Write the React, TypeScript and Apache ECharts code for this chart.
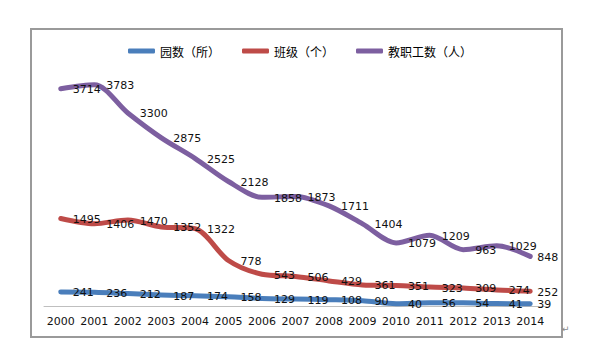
import React, { useEffect, useRef } from "react";
import * as echarts from "echarts";

const years = ["2000", "2001", "2002", "2003", "2004", "2005", "2006", "2007", "2008", "2009", "2010", "2011", "2012", "2013", "2014"];
const kindergartens = [241, 236, 212, 187, 174, 158, 129, 119, 108, 90, 40, 56, 54, 41, 39];
const classes = [1495, 1406, 1470, 1352, 1322, 778, 543, 506, 429, 361, 351, 323, 309, 274, 252];
const staff = [3714, 3783, 3300, 2875, 2525, 2128, 1858, 1873, 1711, 1404, 1079, 1209, 963, 1029, 848];

const seriesNames = ["园数（所）", "班级（个）", "教职工数（人）"];
const seriesColors = ["#4a7ebb", "#be4b48", "#7d5fa0"];
const seriesData = [kindergartens, classes, staff];

export default function App() {
  const ref = useRef<HTMLDivElement>(null);
  useEffect(() => {
    if (!ref.current) return;
    const chart = echarts.init(ref.current, null, { renderer: "svg" });
    const last = years.length - 1;
    chart.setOption({
      animation: false,
      backgroundColor: "#ffffff",
      legend: {
        data: seriesNames,
        top: 40,
        left: "center",
        icon: "roundRect",
        itemWidth: 27,
        itemHeight: 5,
        itemGap: 22,
        textStyle: { fontFamily: "Noto Sans CJK SC", fontSize: 12, color: "#000" },
      },
      grid: { left: 44, right: 53, top: 72, bottom: 54 },
      xAxis: {
        type: "category",
        data: years,
        boundaryGap: true,
        axisLine: { lineStyle: { color: "#bfbfbf", width: 1 } },
        axisTick: { show: false },
        axisLabel: { interval: 0, fontFamily: "DejaVu Sans", fontSize: 11, color: "#111", margin: 10 },
      },
      yAxis: {
        type: "value",
        min: 0,
        max: 4000,
        show: false,
        splitLine: { show: false },
      },
      graphic: [
        {
          type: "rect",
          shape: { x: 31, y: 29, width: 531, height: 308 },
          style: { fill: "none", stroke: "#9a9a9a", lineWidth: 2 },
          silent: true,
        },
        {
          type: "text",
          x: 562,
          y: 324,
          style: { text: "↵", fontSize: 9, fill: "#888", fontFamily: "DejaVu Sans" },
          silent: true,
        },
      ],
      series: seriesData.map((arr, si) => ({
        name: seriesNames[si],
        type: "line",
        data: arr.map((v, i) => (i === last ? { value: v, label: { distance: 6 } } : v)),
        smooth: 0.3,
        symbol: "circle",
        symbolSize: 2,
        showSymbol: true,
        lineStyle: { width: 5, color: seriesColors[si], cap: "round", join: "round" },
        itemStyle: { color: seriesColors[si] },
        label: {
          show: true,
          position: "right",
          distance: 11,
          offset: [0, 1],
          fontFamily: "DejaVu Sans",
          fontSize: 11,
          color: "#111",
        },
      })),
    });
    return () => chart.dispose();
  }, []);
  return (
    <div
      ref={ref}
      style={{ position: "fixed", left: 0, top: 0, width: 600, height: 360 }}
    />
  );
}
